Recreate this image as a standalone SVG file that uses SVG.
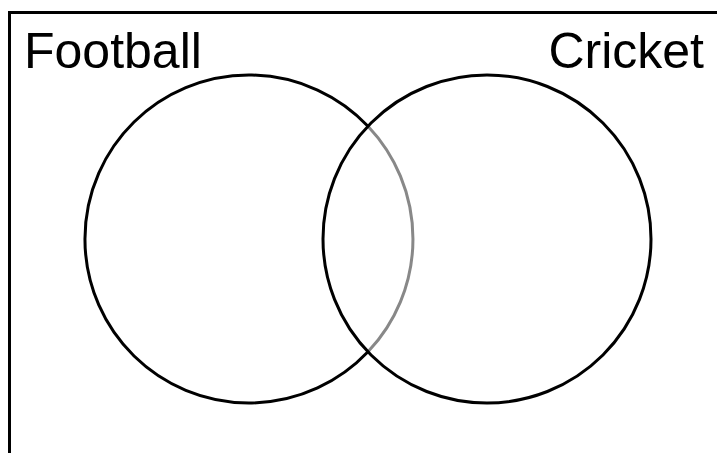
<svg xmlns="http://www.w3.org/2000/svg" width="717" height="453" viewBox="0 0 717 453">
<style>
.lbl{font-family:"Liberation Sans",Arial,sans-serif;font-size:50px;fill:#000}
.ring{fill:none;stroke:#000;stroke-width:3}
</style>
<rect width="717" height="453" fill="#fff"/>
<g id="frame">
<path d="M9.5,453 V12.5 H717" fill="none" stroke="#000" stroke-width="3"/>
</g>
<g id="football">
<path class="ring" d="M368,126.2 A164,164 0 1 0 368,351.8"/>
<path d="M368,126.2 A164,164 0 0 1 368,351.8" fill="none" stroke="#888" stroke-width="3"/>
<text class="lbl" x="24" y="68">Football</text>
</g>
<g id="cricket">
<circle class="ring" cx="487" cy="239" r="164"/>
<text class="lbl" x="704" y="68" text-anchor="end">Cricket</text>
</g>
<g id="connectors"></g>
</svg>
